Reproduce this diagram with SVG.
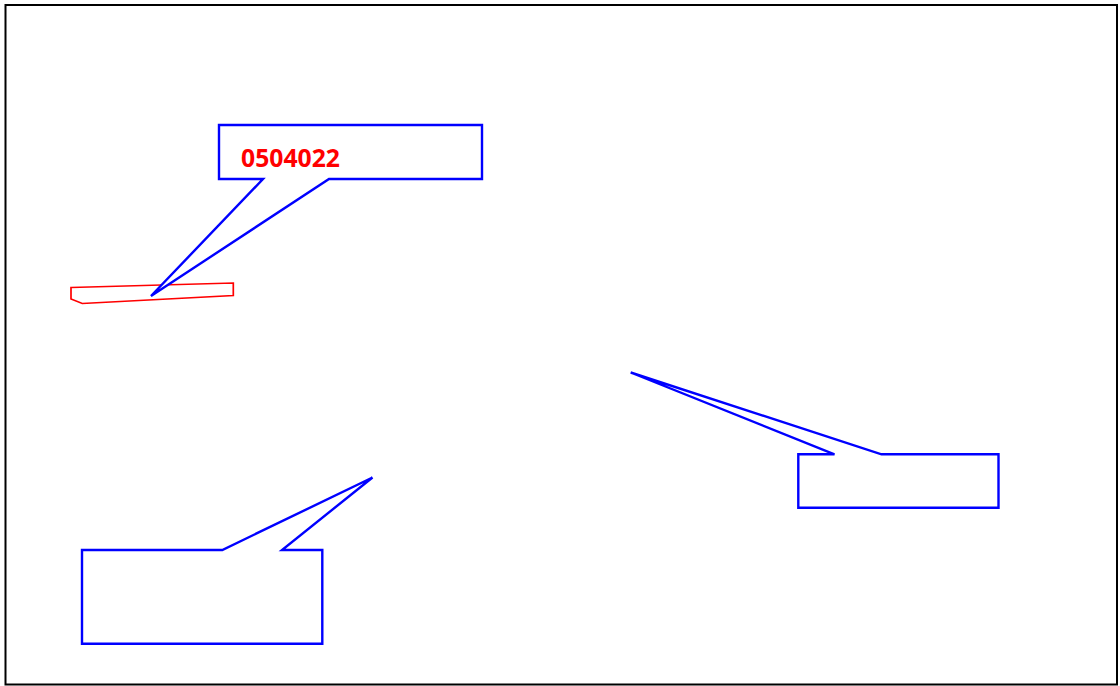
<svg xmlns="http://www.w3.org/2000/svg" width="1120" height="686" viewBox="0 0 1120 686">
<style>
.callout{fill:#fff;stroke:#0000ff;stroke-width:2.4;stroke-linejoin:miter}
.part{fill:#fff;stroke:#ff0000;stroke-width:1.7}
.label{font-family:"Open Sans","Liberation Sans",sans-serif;font-weight:bold;font-size:24.5px;fill:#ff0000}
</style>
<rect x="0" y="0" width="1120" height="686" fill="#fff"/>
<rect x="5.5" y="5" width="1111.5" height="679.5" fill="none" stroke="#000" stroke-width="2"/>
<g id="part">
<polygon class="part" points="71,287.5 233.3,283 233.3,295.5 82.3,303.5 71,299"/>
</g>
<g id="callout1">
<polygon class="callout" points="219,125 482,125 482,179 329,179 151,296 263,179 219,179"/>
<text class="label" x="241" y="167" textLength="99" lengthAdjust="spacingAndGlyphs">0504022</text>
</g>
<g id="callout2">
<polygon class="callout" points="798.3,454.3 834.5,454.3 630.7,372.5 881.5,454.3 998.5,454.3 998.5,507.7 798.3,507.7"/>
</g>
<g id="callout3">
<polygon class="callout" points="82,550 222.3,550 372.5,477.5 282,550 322.3,550 322.3,643.7 82,643.7"/>
</g>
<g id="connectors"></g>
</svg>
